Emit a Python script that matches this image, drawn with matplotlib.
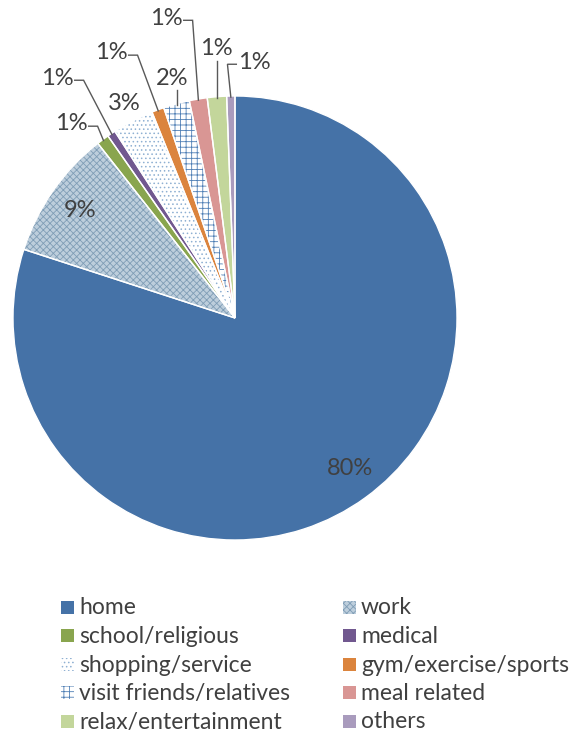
import numpy as np
import matplotlib
matplotlib.use('Agg')
import matplotlib.pyplot as plt
from matplotlib.patches import Rectangle

plt.rcParams['font.family'] = ['Lato', 'DejaVu Sans']
plt.rcParams['hatch.linewidth'] = 0.6

# data
categories = ['home', 'work', 'school/religious', 'medical', 'shopping/service',
              'gym/exercise/sports', 'visit friends/relatives', 'meal related',
              'relax/entertainment', 'others']
shares = [80.0, 9.4, 0.9, 0.6, 3.0, 0.9, 1.9, 1.3, 1.4, 0.6]

# styles
colors = ['#4572A7', '#BDCEDC', '#89A54E', '#71588F', '#FFFFFF',
          '#DB843D', '#FFFFFF', '#D99694', '#C3D69B', '#A99BBD']
hatches = [None, 'xxxxx', None, None, '....', None, '+++', None, None, None]
hatch_cols = [None, '#7F9DB6', None, None, '#8FB0D2', None, '#4F7FB5', None, None, None]

# label placement (data units, pie radius = 1) and leader style
label_pos = [(0.518, -0.676), (-0.698, 0.486), (-0.739, 0.874), (-0.802, 1.081),
             (-0.50, 0.968), (-0.559, 1.194), (-0.284, 1.081), (-0.311, 1.351),
             (-0.086, 1.212), (0.086, 1.153)]
leader = ['none', 'none', 'right', 'right', 'none', 'right', 'below', 'right',
          'below', 'left']

W, H = 569, 732
fig = plt.figure(figsize=(W / 100, H / 100), dpi=100, facecolor='white')
cx, cy, R = 235, 318, 222
ax = fig.add_axes([(cx - R) / W, (H - cy - R) / H, 2 * R / W, 2 * R / H])

wedges, _ = ax.pie(shares, startangle=90, counterclock=False, colors=colors,
                   radius=1, wedgeprops=dict(linewidth=0))
for w, h, hc in zip(wedges, hatches, hatch_cols):
    if h:
        w.set_hatch(h)
        w.set_edgecolor(hc)
# white separators on top
ax.pie(shares, startangle=90, counterclock=False, colors=['none'] * len(shares),
       radius=1, wedgeprops=dict(linewidth=1.0, edgecolor='white', fill=False))
ax.set_xlim(-1, 1)
ax.set_ylim(-1, 1)
ax.set_aspect('auto')
ax.axis('off')

txt_col = '#404040'
line_col = '#595959'
half_w = 0.075
for w, v, (tx, ty), ld in zip(wedges, shares, label_pos, leader):
    ax.text(tx, ty, f'{v:.0f}%', ha='center', va='center', fontsize=17,
            color=txt_col, clip_on=False)
    mid = np.deg2rad((w.theta1 + w.theta2) / 2)
    axp, ayp = np.cos(mid) * 0.995, np.sin(mid) * 0.995
    if ld == 'right':
        x0 = tx + half_w + 0.005
        xs = [x0, x0 + 0.04, axp]
        ys = [ty - 0.01, ty - 0.01, ayp]
    elif ld == 'left':
        x0 = tx - half_w - 0.005
        xs = [x0, x0 - 0.04, axp]
        ys = [ty - 0.01, ty - 0.01, ayp]
    elif ld == 'below':
        xs = [axp, axp]
        ys = [ty - 0.055, ayp]
    else:
        continue
    ax.plot(xs, ys, color=line_col, lw=1.0, clip_on=False, solid_joinstyle='miter')

# legend, two columns filled row by row
col_x = [61, 343]
row_y0, row_dy = 607, 28.5
box = 13
for i, name in enumerate(categories):
    c, r = i % 2, i // 2
    x = col_x[c]
    y = row_y0 + r * row_dy
    fig.add_artist(Rectangle((x / W, 1 - (y + box / 2) / H), box / W, box / H,
                             transform=fig.transFigure, facecolor=colors[i],
                             edgecolor=hatch_cols[i] or colors[i],
                             hatch=hatches[i], linewidth=0))
    fig.text((x + box + 5) / W, 1 - (y + 1) / H, name, ha='left', va='center',
             fontsize=16.5, color=txt_col)

fig.savefig('out.png', dpi=100, facecolor='white')
